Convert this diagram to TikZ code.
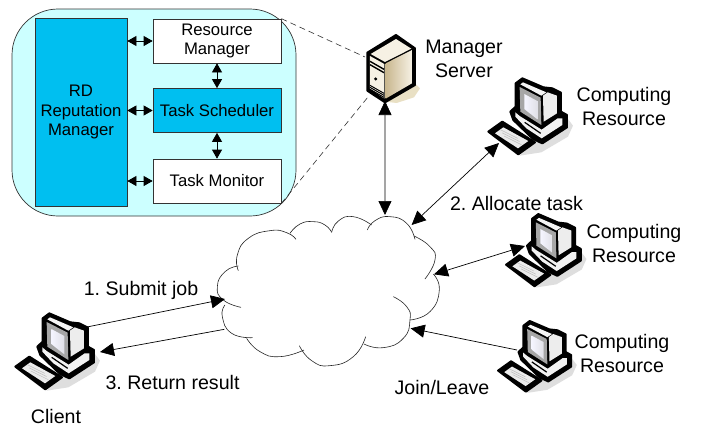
\documentclass[tikz,border=0pt]{standalone}
\usepackage{fontspec}
\setmainfont{Liberation Sans}
\usetikzlibrary{arrows.meta}
\definecolor{panelc}{HTML}{CCFFFF}
\definecolor{bluec}{HTML}{00BFF0}
\definecolor{creamc}{HTML}{F6F1E4}
\definecolor{tanc}{HTML}{C9B78F}
\definecolor{shadowc}{HTML}{E9E0C4}
\frenchspacing
\tikzset{
 x=1pt,y=-1pt,
 panelbox/.style={draw=black!80,line width=.7pt,minimum width=128pt,inner sep=0pt,align=center,font=\fontsize{16.7}{19.8}\selectfont},
 lab/.style={inner sep=0pt,align=center,font=\fontsize{19.6}{24}\selectfont},
 small/.style={line width=.7pt,{Triangle[length=9pt,width=10pt]}-{Triangle[length=9pt,width=10pt]}},
 big/.style={line width=.7pt,{Triangle[length=14pt,width=13pt]}-{Triangle[length=14pt,width=13pt]}},
 single/.style={line width=.7pt,-{Triangle[length=14pt,width=13pt]}},
 leader/.style={line width=.6pt,dash pattern=on 6pt off 4pt,black!80},
 bump/.style={line width=.6pt,black!85},
}
\newcommand{\pccomputer}[3]{%
\begin{scope}[shift={(#1,#2)},x=#3*.3333pt,y=-#3*.3333pt]
 \fill[black!13] (140,272) -- (205,262) -- (285,215) -- (300,182) -- (276,150) -- cycle;
 \fill[black,draw=black,line width=2pt,line join=round] (128,55) -- (148,40) -- (211,67) -- (238,70) -- (264,83) -- (264,140) -- (282,150) -- (282,187) -- (208,235) -- (180,222) -- (121,165) -- (112,140) -- (128,125) -- cycle;
 \fill[black,draw=black,line width=2pt,line join=round] (46,200) -- (88,170) -- (186,232) -- (136,268) -- cycle;
 \fill[black!4] (142,58) -- (150,52) -- (220,82) -- (205,92) -- cycle;
 \fill[black!7] (210,92) -- (224,82) -- (252,92) -- (252,145) -- (212,170) -- cycle;
 \fill[black!35] (140,66) -- (203,98) -- (205,180) -- (142,140) -- cycle;
 \shade[left color=blue!4,right color=blue!22!black!12] (154,87) -- (193,108) -- (193,163) -- (154,132) -- cycle;
 \fill[black!5] (127,142) -- (140,153) -- (206,194) -- (254,160) -- (268,160) -- (268,180) -- (206,220) -- (160,190) -- (127,155) -- cycle;
 \draw[black,line width=1.2pt] (155,172) -- (203,205);
 \fill[black!8] (66,205) -- (91,187) -- (166,228) -- (135,250) -- cycle;
 \foreach \d in {0,8,16}{\draw[black!25,line width=.5pt] (82+\d*.7,194+\d*1.2) -- (134+\d*.7,220+\d*1.2);}
\end{scope}}
\begin{document}
\begin{tikzpicture}
\useasboundingbox (0,0) rectangle (705,426);
\fill[white] (0,0) rectangle (705,426);
% panel
\filldraw[fill=panelc,draw=black!80,line width=.7pt,rounded corners=46pt] (12,9) rectangle (296,216);
\node[panelbox,fill=bluec,minimum width=92pt,minimum height=188pt] (rd) at (81,112) {RD\\Reputation\\Manager};
\node[panelbox,fill=white,minimum height=44pt] (rm) at (217,41) {Resource\\Manager};
\node[panelbox,fill=bluec,minimum height=44pt] (ts) at (217,110.5) {Task Scheduler};
\node[panelbox,fill=white,minimum height=44pt] (tm) at (217,181) {Task Monitor};
\draw[small] (rd.east |- rm.west) -- (rm.west);
\draw[small] (rd.east |- ts.west) -- (ts.west);
\draw[small] (rd.east |- tm.west) -- (tm.west);
\draw[small] (rm) -- (ts);
\draw[small] (ts) -- (tm);
% server
\coordinate (srvA) at (365,57);
\coordinate (srvB) at (368,97);
\coordinate (srvC) at (385,101);
\begin{scope}[shift={(340,20)},x=.3333pt,y=-.3333pt]
 \fill[shadowc] (135,245) -- (225,190) -- (240,205) -- (222,232) -- (170,249) -- cycle;
 \fill[black,draw=black,line width=2pt,line join=round] (168,45) -- (82,98) -- (82,212) -- (135,247) -- (225,195) -- (225,85) -- cycle;
 \fill[creamc] (168,57) -- (92,102) -- (135,126) -- (214,86) -- cycle;
 \shade[shading angle=45,left color=tanc,right color=creamc] (137,130) -- (216,90) -- (216,190) -- (137,236) -- cycle;
 \fill[creamc] (90,108) -- (133,132) -- (133,236) -- (90,206) -- cycle;
 \draw[black,line width=1.4pt] (90,124) -- (132,148);
 \draw[black,line width=1.4pt] (90,134) -- (132,158);
 \fill[black] (107,177) circle (5);
 \foreach \d in {0,6,12,18}{\draw[black,line width=1pt] (90,196+\d) -- (132,220+\d);}
\end{scope}
% computers
\pccomputer{0}{300}{1}
\pccomputer{473}{65}{1}
\pccomputer{491.5}{201.4}{.95}
\pccomputer{483.8}{308.6}{.93}
\coordinate (pc1) at (499,143);
\coordinate (pc2) at (525,246);
\coordinate (pc3) at (517,350);
\coordinate (cl1) at (87,327);
\coordinate (cl2) at (100,352);
% cloud
\begin{scope}[shift={(190,200)},x=.3333pt,y=-.3333pt]
 \draw[bump] plot[smooth,tension=.9] coordinates {(145,212) (142,165) (175,115) (240,92) (290,98) (318,118)};
 \draw[bump] plot[smooth,tension=.9] coordinates {(145,198) (105,215) (82,260) (100,300) (153,322)};
 \draw[bump] plot[smooth,tension=.9] coordinates {(105,315) (97,350) (125,400) (188,413)};
 \draw[bump] plot[smooth,tension=.9] coordinates {(170,415) (210,455) (270,470) (342,450)};
 \draw[bump] plot[smooth,tension=.9] coordinates {(328,437) (365,482) (420,497) (490,470) (527,410)};
 \draw[bump] plot[smooth,tension=.9] coordinates {(522,432) (580,443) (640,415) (660,360) (650,320) (610,290)};
 \draw[bump] plot[smooth,tension=.9] coordinates {(660,360) (720,335) (748,270) (730,222)};
 \draw[bump] plot[smooth,tension=.9] coordinates {(672,108) (720,140) (735,180) (705,237)};
 \draw[bump] plot[smooth,tension=.9] coordinates {(532,90) (555,62) (600,50) (650,70) (675,118)};
 \draw[bump] plot[smooth,tension=.9] coordinates {(425,97) (445,63) (490,50) (545,75)};
 \draw[bump] plot[smooth,tension=.9] coordinates {(300,100) (330,72) (370,65) (405,75) (425,97)};
 \coordinate (cT) at (585,45);
 \coordinate (cTR) at (665,75);
 \coordinate (cR) at (732,223);
 \coordinate (cBR) at (662,385);
 \coordinate (cL1) at (105,297);
 \coordinate (cL2) at (103,388);
\end{scope}
% connectors
\draw[big] (srvC) -- (cT);
\draw[big] (pc1) -- (cTR);
\draw[big] (pc2) -- (cR);
\draw[single] (pc3) -- (cBR);
\draw[single] (cl1) -- (cL1);
\draw[single] (cL2) -- (cl2);
\draw[leader] (rm.north east) -- (srvA);
\draw[leader] (tm.south east) -- (srvB);
% labels
\node[lab] (t1) at (464,59) {Manager\\Server};
\node[lab] (t2) at (624,106) {Computing\\Resource};
\node[lab] (t3) at (634,243.5) {Computing\\Resource};
\node[lab] (t4) at (622,353) {Computing\\Resource};
\node[lab] (t5) at (516.5,203) {2. Allocate task};
\node[lab] (t6) at (141,290) {1. Submit job};
\node[lab] (t7) at (172.5,382) {3. Return result};
\node[lab] (t8) at (442,387) {Join/Leave};
\node[lab] (t9) at (56,416) {Client};
\end{tikzpicture}
\end{document}
